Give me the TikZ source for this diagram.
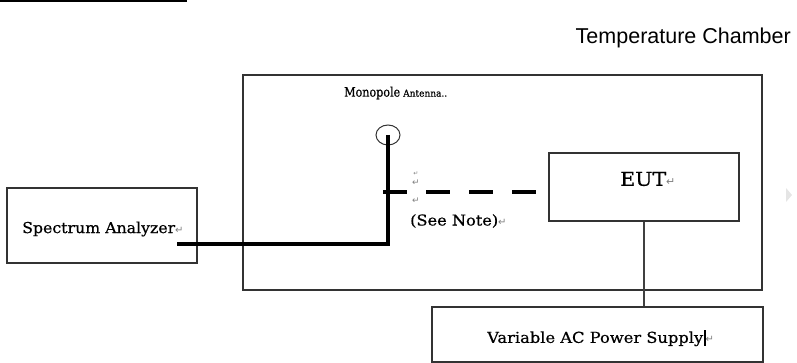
\documentclass[tikz,border=0pt]{standalone}
\usepackage{fontspec}
\setmainfont{DejaVu Serif}[FakeBold=0.6]
\newfontfamily\armsans{Liberation Sans}
\newfontfamily\symfont{DejaVu Sans}
\usepackage{graphicx}
\usetikzlibrary{shapes.geometric}
\newcommand\fitw[2]{\resizebox{#1}{\height}{#2}}
\newcommand\pmark[1][10]{{\symfont\fontsize{#1}{#1}\selectfont\color{black!50}↵}}
\begin{document}
\begin{tikzpicture}[x=1pt,y=-1pt,
  box/.style={draw=black!80, line width=1.3pt, rectangle, inner sep=0pt},
  feedline/.style={line width=4.6pt, black, line join=miter},
  dashline/.style={line width=4.2pt, black, dash pattern=on 24pt off 19pt},
  thinline/.style={draw=black!75, line width=1.3pt},
  lbl/.style={inner sep=0pt, anchor=west}]
\useasboundingbox (0,0) rectangle (797,363);
% top rule
\coordinate (r1) at (0,1);
\coordinate (r2) at (187,1);
\draw[black, line width=1.5pt] (r1) -- (r2);
% title
\node[anchor=base east, inner sep=0pt, font=\armsans\fontsize{21.5}{21.5}\selectfont] (title) at (791,44) {Temperature Chamber};
% boxes
\node[box, minimum width=519pt, minimum height=215pt] (chamber) at (502.5,182.5) {};
\node[box, minimum width=190pt, minimum height=75pt] (sa) at (102,225.5) {};
\node[box, minimum width=190pt, minimum height=68pt] (eut) at (644,187) {};
\node[box, minimum width=331pt, minimum height=55pt] (ps) at (597.5,334.5) {};
% antenna
\node[draw=black!80, line width=1pt, ellipse, minimum width=24pt, minimum height=20pt, inner sep=0pt] (ant) at (388,135) {};
% labels
\node[lbl] (antlbl) at (344,93) {\fontsize{13}{13}\selectfont\fitw{56pt}{Monopole}\hspace{3pt}{\fontsize{9.5}{9.5}\selectfont\fitw{44pt}{Antenna..}}};
\node[lbl] (salbl) at (22,229) {\fontsize{15}{15}\selectfont\fitw{153pt}{Spectrum Analyzer}\pmark};
\node[lbl] (eutlbl) at (620,179) {\fontsize{19}{19}\selectfont\fitw{46pt}{EUT}\pmark[11]};
\node[lbl] (notelbl) at (410,221) {\fontsize{15}{15}\selectfont\fitw{88pt}{(See Note)}\pmark};
\node[lbl] (pslbl) at (487,338) {\fontsize{15}{15}\selectfont\fitw{216pt}{Variable AC Power Supply}\hspace{0.5pt}\rule[-3pt]{2pt}{16pt}\pmark};
% connectors
\coordinate (bend) at (388,244);
\coordinate (feedend) at (177,244);
\draw[feedline] (ant.center) -- (bend) -- (feedend);
\coordinate (tap) at (383,192);
\draw[dashline] (tap) -- (tap -| eut.west);
\draw[thinline] (eut.south) -- (eut.south |- ps.north);
% small paragraph marks near the dashed line
\node[inner sep=0pt] (pm0) at (416,174) {\pmark[6]};
\node[inner sep=0pt] (pm1) at (416,183) {\pmark[9]};
\node[inner sep=0pt] (pm2) at (416,201) {\pmark[9]};
% faint mark at right edge
\fill[black!10] (786,188) -- (792,195) -- (786,202) -- cycle;
\end{tikzpicture}
\end{document}
